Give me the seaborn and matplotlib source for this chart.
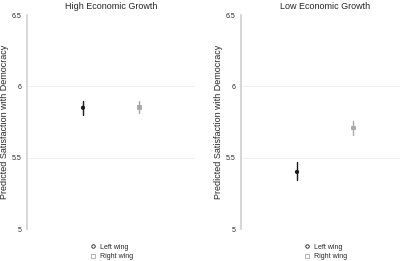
import matplotlib
matplotlib.use("Agg")
import matplotlib.pyplot as plt
import seaborn as sns
import pandas as pd
from matplotlib.lines import Line2D

panels = ['High Economic Growth', 'Low Economic Growth']
groups = ['Left wing', 'Right wing']
# predicted values and 95% CI bounds, per panel
pred = [[5.85, 5.855], [5.40, 5.71]]
lower = [[5.80, 5.81], [5.34, 5.66]]
upper = [[5.90, 5.90], [5.47, 5.76]]
yticks = [5, 5.5, 6, 6.5]
ytick_labels = ['5', '5.5', '6', '6.5']

colors = ['#1a1a1a', '#a8a8a8']
markers = ['o', 's']

sns.set_style('white')
plt.rcParams['font.family'] = ['Liberation Sans', 'DejaVu Sans']

fig = plt.figure(figsize=(4, 2.61), dpi=100)
axes = [fig.add_axes([0.0675, 0.1226, 0.42, 0.8199]),
        fig.add_axes([0.6025, 0.1226, 0.42, 0.8199])]

for i, ax in enumerate(axes):
    df = pd.DataFrame({'x': [1, 2], 'y': pred[i], 'group': groups})
    for j in range(2):
        ax.plot([df.x[j], df.x[j]], [lower[i][j], upper[i][j]],
                color=colors[j], lw=1.0, zorder=2)
    sns.scatterplot(data=df, x='x', y='y', hue='group', style='group',
                    palette=colors, markers=markers, s=6, ax=ax,
                    legend=False, zorder=3, edgecolor=colors, linewidth=0.6)
    ax.set_xlim(0, 3)
    ax.set_ylim(5, 6.5)
    ax.set_yticks(yticks)
    ax.set_yticklabels(ytick_labels, fontsize=5)
    ax.set_xticks([])
    ax.set_xlabel('')
    ax.set_ylabel('Predicted Satisfaction with Democracy', fontsize=6.5, labelpad=2)
    ax.set_title(panels[i], fontsize=6.5, pad=4)
    for y in [5.5, 6]:
        ax.axhline(y, color='#ececec', lw=0.6, zorder=0)
    for s in ['top', 'right', 'bottom']:
        ax.spines[s].set_visible(False)
    ax.spines['left'].set_color('#cfcfcf')
    ax.spines['left'].set_linewidth(1.2)
    ax.tick_params(axis='y', length=2, width=0.5, color='#999999', pad=2)
    handles = [Line2D([], [], ls='', marker=markers[k], color=colors[k],
                      markerfacecolor='white', markersize=2.5, markeredgewidth=0.6)
               for k in range(2)]
    ax.legend(handles, groups, loc='upper center', bbox_to_anchor=(0.5, -0.04),
              frameon=False, fontsize=5, handlelength=1, handletextpad=0.5,
              labelspacing=0.35)

fig.savefig('out.png', dpi=100)
